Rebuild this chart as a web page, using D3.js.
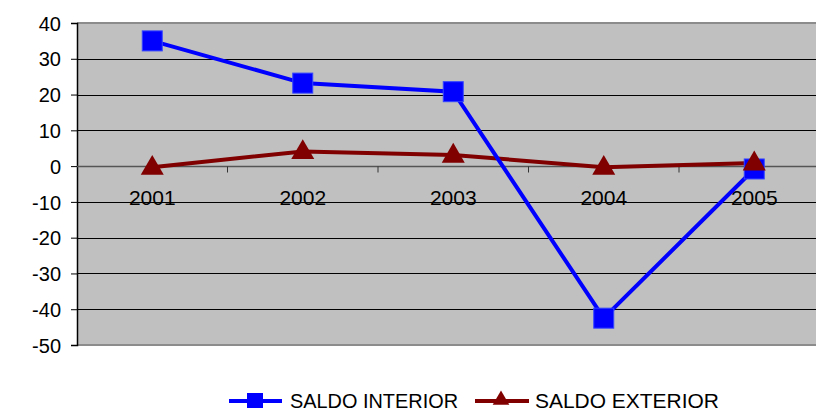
<!DOCTYPE html>
<html><head><meta charset="utf-8">
<script src="https://cdn.jsdelivr.net/npm/d3@7"></script>
<style>body{margin:0;background:#fff}svg{display:block;font-family:"Liberation Sans",Arial,sans-serif}</style>
</head><body><svg id="c" width="816" height="413"></svg>
<script>
const categories = ["2001","2002","2003","2004","2005"];
const saldoInterior = [35, 23.2, 20.8, -42.5, -0.8];
const saldoExterior = [-0.3, 4.1, 3.1, -0.3, 0.9];
const yTicks = [40,30,20,10,0,-10,-20,-30,-40,-50];
const seriesNames = ["SALDO INTERIOR","SALDO EXTERIOR"];

const svg = d3.select("#c");
const L = 77, T = 23, B = 345, bandW = 150.5;
const x = d3.scaleBand().domain(categories).range([L, L + bandW*categories.length]).paddingInner(0).paddingOuter(0);
const y = d3.scaleLinear().domain([-50, 40]).range([B, T]);

svg.append("rect").attr("x", L).attr("y", T).attr("width", 816 - L).attr("height", B - T).attr("fill", "#c0c0c0");
svg.append("line").attr("x1", L).attr("x2", 816).attr("y1", T).attr("y2", T).attr("stroke", "#8c8c8c").attr("stroke-width", 2);
svg.append("line").attr("x1", L).attr("x2", 816).attr("y1", B).attr("y2", B).attr("stroke", "#8c8c8c").attr("stroke-width", 2);

svg.append("g").selectAll("line").data(yTicks.filter(d => d !== 40 && d !== -50 && d !== 0)).join("line")
  .attr("x1", L).attr("x2", 816).attr("y1", d => Math.round(y(d)) + 0.5).attr("y2", d => Math.round(y(d)) + 0.5)
  .attr("stroke", "#000").attr("stroke-width", 1);

const ya = d3.axisLeft(y).tickValues(yTicks).tickSize(6).tickPadding(10).tickFormat(d => String(d));
const gy = svg.append("g").attr("transform", `translate(${L},0)`).call(ya);
gy.select(".domain").attr("stroke", "#000").attr("stroke-width", 1.5);
gy.selectAll(".tick line").attr("stroke", "#000");
gy.selectAll(".tick text").attr("font-size", 20).attr("fill", "#000").attr("font-family", "'Liberation Sans', Arial, sans-serif").attr("dy", "0.36em");

const y0 = Math.round(y(0)) + 0.5;
svg.append("line").attr("x1", L).attr("x2", 816).attr("y1", y0).attr("y2", y0).attr("stroke", "#555").attr("stroke-width", 1.5);
svg.append("g").selectAll("line").data(categories.slice(1)).join("line")
  .attr("x1", d => x(d)).attr("x2", d => x(d)).attr("y1", y0).attr("y2", y0 + 6).attr("stroke", "#333");
svg.append("g").selectAll("text").data(categories).join("text")
  .attr("x", d => x(d) + x.bandwidth()/2).attr("y", y0 + 38).attr("text-anchor", "middle")
  .attr("font-size", 21).attr("fill", "#000").text(d => d);

const cx = d => x(d) + x.bandwidth()/2;
const line = d3.line().x((d,i) => cx(categories[i])).y(d => y(d));

svg.append("path").datum(saldoExterior).attr("d", line).attr("fill", "none").attr("stroke", "#800000").attr("stroke-width", 4);
svg.append("path").datum(saldoInterior).attr("d", line).attr("fill", "none").attr("stroke", "#0000ff").attr("stroke-width", 4);
svg.append("g").selectAll("rect").data(saldoInterior).join("rect")
  .attr("x", (d,i) => cx(categories[i]) - 10).attr("y", d => y(d) - 10).attr("width", 20).attr("height", 20)
  .attr("fill", "#0000ff").attr("stroke", "#3344ff").attr("stroke-width", 1);
const tri = d3.symbol().type(d3.symbolTriangle).size(230);
svg.append("g").selectAll("path").data(saldoExterior).join("path")
  .attr("transform", (d,i) => `translate(${cx(categories[i])},${y(d) + 1})`).attr("d", tri).attr("fill", "#800000");

const lg = svg.append("g");
const ly = 401;
lg.append("line").attr("x1", 229).attr("x2", 282).attr("y1", ly).attr("y2", ly).attr("stroke", "#0000ff").attr("stroke-width", 4);
lg.append("rect").attr("x", 247).attr("y", ly - 8).attr("width", 16).attr("height", 15).attr("fill", "#0000ff");
lg.append("text").attr("x", 290).attr("y", ly + 7).attr("font-size", 20).attr("textLength", 168).attr("lengthAdjust", "spacingAndGlyphs").text(seriesNames[0]);
lg.append("line").attr("x1", 475).attr("x2", 529).attr("y1", ly).attr("y2", ly).attr("stroke", "#800000").attr("stroke-width", 4);
lg.append("path").attr("transform", `translate(501,${ly - 1})`).attr("d", d3.symbol().type(d3.symbolTriangle).size(120)).attr("fill", "#800000");
lg.append("text").attr("x", 535).attr("y", ly + 7).attr("font-size", 20).attr("textLength", 184).attr("lengthAdjust", "spacingAndGlyphs").text(seriesNames[1]);
</script></body></html>
